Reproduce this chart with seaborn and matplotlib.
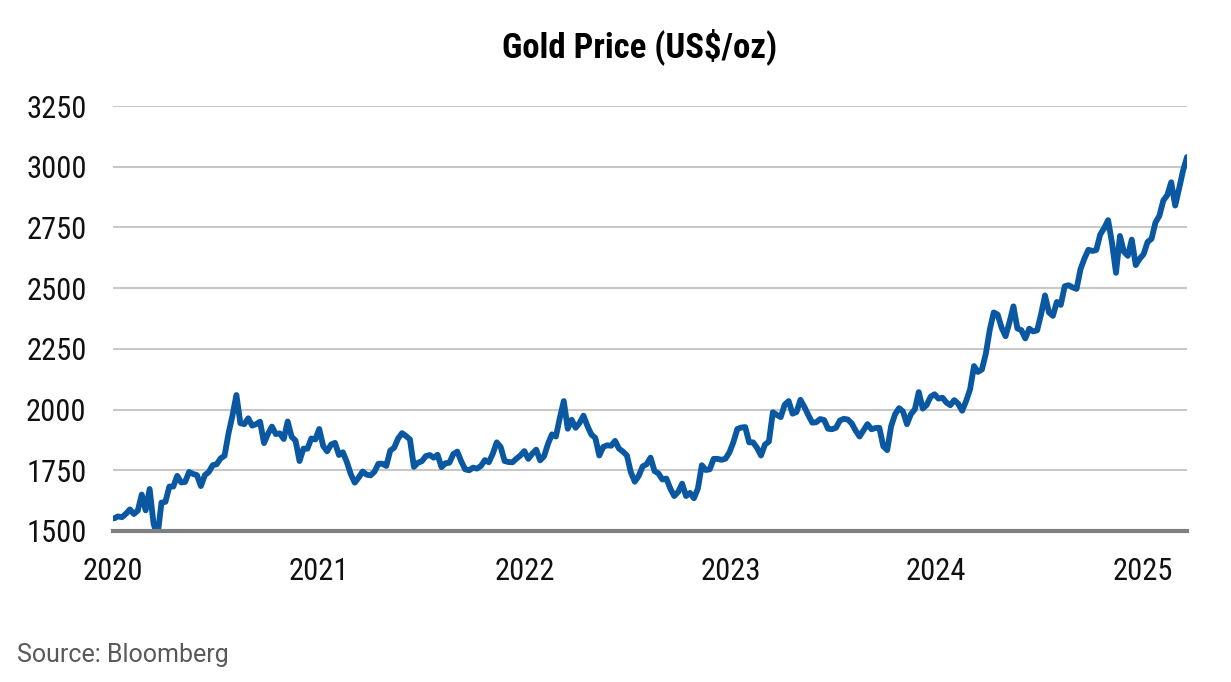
import pandas as pd
import matplotlib.pyplot as plt
import seaborn as sns
from matplotlib import font_manager as fm

# --- weekly gold closes (Friday) ---
gold_2020 = [1552, 1560, 1557, 1571, 1589,
             1570, 1584, 1650, 1585,
             1673, 1530, 1478, 1617,
             1620, 1683, 1683, 1727,
             1700, 1702, 1743, 1735, 1730,
             1685, 1730, 1743, 1771,
             1775, 1799, 1810, 1902, 1975,
             2060, 1944, 1940, 1964,
             1934, 1940, 1950, 1862,
             1900, 1930, 1899, 1902, 1879,
             1951, 1888, 1872, 1788,
             1839, 1839, 1881, 1877]
gold_2021 = [1920, 1850, 1828, 1856, 1863,
             1813, 1824, 1784, 1734,
             1699, 1720, 1745, 1732,
             1729, 1744, 1777, 1777, 1768,
             1831, 1843, 1881, 1903,
             1891, 1877, 1764, 1781,
             1787, 1808, 1813, 1802, 1814,
             1763, 1779, 1781, 1817,
             1827, 1787, 1754, 1750,
             1761, 1757, 1768, 1792, 1783,
             1818, 1865, 1846, 1788,
             1784, 1783, 1798, 1811, 1829]
gold_2022 = [1797, 1818, 1835, 1791,
             1808, 1859, 1898, 1889,
             1966, 2035, 1921, 1958,
             1925, 1945, 1975, 1932, 1897,
             1883, 1811, 1846, 1853,
             1851, 1871, 1839, 1827,
             1811, 1742, 1703, 1727, 1766,
             1775, 1802, 1747, 1737,
             1712, 1716, 1675, 1644, 1661,
             1695, 1644, 1657, 1635,
             1675, 1771, 1751, 1754,
             1797, 1797, 1793, 1798, 1824]
gold_2023 = [1866, 1920, 1926, 1928,
             1865, 1865, 1842, 1811,
             1856, 1868, 1989, 1978, 1969,
             2020, 2035, 1983, 1990,
             2040, 2011, 1977, 1946,
             1948, 1961, 1957, 1921, 1919,
             1925, 1955, 1962, 1959,
             1943, 1913, 1889, 1915,
             1940, 1919, 1924, 1925, 1849,
             1833, 1932, 1981, 2006,
             1992, 1940, 1981, 2001,
             2072, 2004, 2019, 2053, 2063]
gold_2024 = [2045, 2049, 2029, 2018,
             2039, 2024, 1995, 2035,
             2083, 2179, 2155, 2165, 2230,
             2329, 2400, 2391, 2337,
             2302, 2360, 2425, 2334, 2327,
             2293, 2333, 2322, 2326,
             2392, 2470, 2400, 2386,
             2443, 2431, 2508, 2512, 2503,
             2497, 2578, 2622, 2658,
             2653, 2657, 2721, 2747,
             2780, 2685, 2563, 2715, 2650,
             2633, 2700, 2595, 2621]
gold_2025 = [2640, 2690, 2703, 2770, 2798,
             2861, 2883, 2936, 2840,
             2910, 2984, 3040]

year_ticks = ["2020", "2021", "2022", "2023", "2024", "2025"]
y_ticks = [1500, 1750, 2000, 2250, 2500, 2750, 3000, 3250]

# build the frame: one list per year matched to that year's fridays
parcalar = []
for yil, vals in zip(year_ticks, [gold_2020, gold_2021, gold_2022, gold_2023, gold_2024, gold_2025]):
    fridays = pd.date_range(f"{yil}-01-01", f"{yil}-12-31", freq="W-FRI")[:len(vals)]
    parcalar.append(pd.DataFrame({"Date": fridays, "Price": vals}))
df = pd.concat(parcalar, ignore_index=True)

# condensed font, if the box has one
yuklu = {f.name for f in fm.fontManager.ttflist}
dar_font = next((f for f in ["Roboto Condensed", "IBM Plex Sans Condensed", "Liberation Sans Narrow"]
                 if f in yuklu), "Roboto")

sns.set_style("white")
plt.rcParams["font.family"] = [dar_font, "Roboto", "DejaVu Sans"]

fig = plt.figure(figsize=(12.31, 6.82), dpi=100)
ax = fig.add_axes([113 / 1231, 1 - 531 / 682, (1187 - 113) / 1231, (531 - 106) / 682])

sns.lineplot(data=df, x="Date", y="Price", ax=ax, color="#0A57A2", linewidth=4.2)

ax.set_ylim(1500, 3250)
ax.set_xlim(pd.Timestamp("2020-01-01"), df["Date"].iloc[-1])
ax.set_yticks(y_ticks)
ax.set_yticklabels([str(v) for v in y_ticks])
ax.set_xticks([pd.Timestamp(f"{y}-01-01") for y in year_ticks])
ax.set_xticklabels(year_ticks)
ax.tick_params(axis="y", length=0, pad=19, labelsize=22, labelcolor="#111111")
ax.tick_params(axis="x", length=0, pad=19, labelsize=22, labelcolor="#111111")
ax.set_xlabel("")
ax.set_ylabel("")

ax.grid(axis="y", color="#c8c8c8", linewidth=1.5)
ax.set_axisbelow(True)
for s in ["top", "right", "left"]:
    ax.spines[s].set_visible(False)
ax.spines["bottom"].set_color("#808080")
ax.spines["bottom"].set_linewidth(3)
ax.spines["bottom"].set_zorder(5)

fig.text(640 / 1231, 1 - 47 / 682, "Gold Price (US$/oz)", ha="center", va="center",
         fontsize=25, fontweight="bold", color="#000000")
fig.text(17 / 1231, 1 - 655 / 682, "Source: Bloomberg", ha="left", va="center",
         fontsize=18, color="#595959", family=["Roboto", "DejaVu Sans"])

fig.savefig("out.png", dpi=100)
